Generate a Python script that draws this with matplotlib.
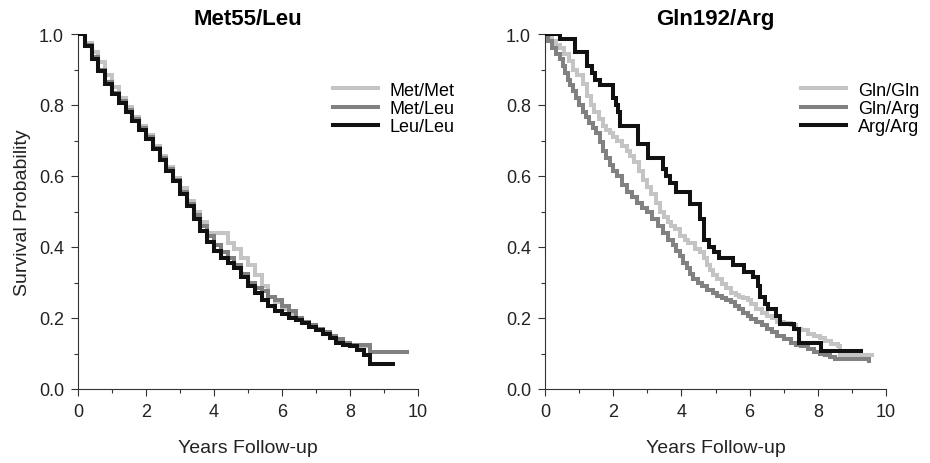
import matplotlib
matplotlib.use("Agg")
import matplotlib.pyplot as plt
import numpy as np

plt.rcParams['font.family'] = ['Liberation Sans', 'DejaVu Sans']

# ---------------- data ----------------
left_title = "Met55/Leu"
right_title = "Gln192/Arg"
x_label = "Years Follow-up"
y_label = "Survival Probability"
x_ticks = [0, 2, 4, 6, 8, 10]
y_ticks = [0.0, 0.2, 0.4, 0.6, 0.8, 1.0]

left_labels = ["Met/Met", "Met/Leu", "Leu/Leu"]
right_labels = ["Gln/Gln", "Gln/Arg", "Arg/Arg"]

grid_t = [0, 0.2, 0.4, 0.6, 0.8, 1.0, 1.2, 1.4, 1.6, 1.8, 2.0, 2.2, 2.4, 2.6, 2.8,
          3.0, 3.2, 3.4, 3.6, 3.8, 4.0, 4.2, 4.4, 4.6, 4.8, 5.0, 5.2, 5.4, 5.6, 5.8,
          6.0, 6.2, 6.4, 6.6, 6.8, 7.0, 7.2, 7.4, 7.6, 7.8, 8.0, 8.2, 8.4, 8.6]

leuleu_t = grid_t + [9.25]
leuleu_s = [1.0, 0.965, 0.93, 0.895, 0.86, 0.83, 0.805, 0.78, 0.755, 0.73, 0.705, 0.675,
            0.645, 0.615, 0.585, 0.55, 0.515, 0.48, 0.445, 0.415, 0.39, 0.37, 0.355, 0.34,
            0.315, 0.29, 0.27, 0.25, 0.235, 0.22, 0.21, 0.2, 0.195, 0.185, 0.175, 0.165,
            0.155, 0.145, 0.13, 0.125, 0.12, 0.11, 0.095, 0.07, 0.07]

metleu_t = grid_t + [9.67]
metleu_s = [1.0, 0.97, 0.935, 0.9, 0.865, 0.835, 0.81, 0.785, 0.76, 0.735, 0.71, 0.68,
            0.65, 0.62, 0.59, 0.555, 0.52, 0.49, 0.46, 0.43, 0.405, 0.385, 0.37, 0.35,
            0.325, 0.3, 0.285, 0.275, 0.26, 0.25, 0.235, 0.22, 0.2, 0.19, 0.18, 0.17,
            0.16, 0.15, 0.14, 0.13, 0.125, 0.125, 0.125, 0.105, 0.105]

metmet_t = grid_t[:-1] + [8.5]
metmet_s = [1.0, 0.975, 0.95, 0.92, 0.885, 0.85, 0.82, 0.795, 0.765, 0.74, 0.715, 0.685,
            0.655, 0.625, 0.595, 0.565, 0.53, 0.5, 0.47, 0.44, 0.44, 0.44, 0.41, 0.395,
            0.37, 0.35, 0.32, 0.29, 0.26, 0.245, 0.225, 0.21, 0.2, 0.19, 0.18, 0.165,
            0.155, 0.145, 0.14, 0.13, 0.125, 0.12, 0.12, 0.12]

glngln_t = [0, 0.1, 0.2, 0.32, 0.44, 0.55, 0.7, 0.83, 0.95, 1.1, 1.24, 1.35, 1.45, 1.58,
            1.7, 1.8, 1.9, 2.0, 2.1, 2.25, 2.4, 2.5, 2.6, 2.75, 2.88, 3.0, 3.1, 3.25, 3.38,
            3.5, 3.6, 3.7, 3.8, 3.97, 4.1, 4.2, 4.4, 4.56, 4.65, 4.75, 4.85, 4.94, 5.05,
            5.2, 5.32, 5.44, 5.6, 5.7, 5.82, 5.94, 6.05, 6.2, 6.35, 6.5, 6.65, 6.8, 7.0,
            7.2, 7.35, 7.5, 7.7, 7.9, 8.05, 8.2, 8.4, 8.6, 8.65, 9.6]
glngln_s = [1.0, 0.99, 0.98, 0.97, 0.96, 0.945, 0.925, 0.90, 0.885, 0.86, 0.825, 0.80,
            0.78, 0.76, 0.74, 0.73, 0.72, 0.71, 0.70, 0.685, 0.67, 0.655, 0.64, 0.615,
            0.59, 0.57, 0.55, 0.525, 0.50, 0.485, 0.47, 0.46, 0.45, 0.43, 0.42, 0.41,
            0.395, 0.385, 0.37, 0.35, 0.335, 0.32, 0.31, 0.295, 0.285, 0.27, 0.265, 0.26,
            0.255, 0.25, 0.24, 0.225, 0.215, 0.205, 0.2, 0.19, 0.185, 0.18, 0.17, 0.165,
            0.155, 0.15, 0.145, 0.135, 0.128, 0.12, 0.095, 0.095]

glnarg_t = [0, 0.1, 0.2, 0.32, 0.44, 0.52, 0.6, 0.67, 0.74, 0.82, 0.9, 1.0, 1.12, 1.2,
            1.3, 1.4, 1.5, 1.6, 1.7, 1.8, 1.9, 2.0, 2.1, 2.25, 2.4, 2.55, 2.7, 2.85, 3.0,
            3.15, 3.3, 3.45, 3.6, 3.75, 3.85, 3.97, 4.05, 4.15, 4.25, 4.35, 4.5, 4.6, 4.75,
            4.94, 5.05, 5.2, 5.32, 5.44, 5.57, 5.7, 5.82, 5.94, 6.05, 6.2, 6.35, 6.5, 6.65,
            6.8, 7.0, 7.2, 7.35, 7.5, 7.7, 7.9, 8.05, 8.2, 8.35, 8.5, 9.5]
glnarg_s = [1.0, 0.98, 0.96, 0.945, 0.93, 0.91, 0.89, 0.87, 0.855, 0.84, 0.82, 0.80, 0.78,
            0.765, 0.75, 0.735, 0.72, 0.695, 0.67, 0.65, 0.63, 0.615, 0.60, 0.575, 0.555,
            0.54, 0.525, 0.51, 0.50, 0.48, 0.46, 0.44, 0.42, 0.405, 0.39, 0.375, 0.355,
            0.34, 0.325, 0.31, 0.30, 0.29, 0.28, 0.27, 0.262, 0.255, 0.25, 0.245, 0.235,
            0.225, 0.215, 0.205, 0.198, 0.19, 0.18, 0.17, 0.16, 0.15, 0.14, 0.13, 0.125,
            0.12, 0.112, 0.105, 0.1, 0.095, 0.09, 0.085, 0.08]

argarg_t = [0, 0.45, 0.88, 1.23, 1.38, 1.47, 1.6, 2.0, 2.08, 2.15, 2.2, 2.72, 3.03, 3.45,
            3.55, 3.68, 3.85, 4.26, 4.56, 4.65, 4.8, 4.95, 5.1, 5.5, 5.84, 6.1, 6.25, 6.3,
            6.45, 6.55, 6.76, 6.88, 7.3, 7.45, 8.1, 9.27]
argarg_s = [1.0, 0.986, 0.95, 0.91, 0.89, 0.87, 0.855, 0.82, 0.80, 0.78, 0.74, 0.69, 0.65,
            0.62, 0.60, 0.58, 0.555, 0.52, 0.48, 0.42, 0.40, 0.385, 0.37, 0.35, 0.33, 0.315,
            0.29, 0.26, 0.24, 0.225, 0.205, 0.183, 0.17, 0.13, 0.107, 0.107]

colors = ["#c4c4c4", "#818181", "#111111"]

# ---------------- figure ----------------
fig = plt.figure(figsize=(9.3, 4.64), dpi=100)
W, H = 930, 464
ax1 = fig.add_axes([78 / W, (H - 390) / H, 340 / W, 355 / H])
ax2 = fig.add_axes([545 / W, (H - 390) / H, 341 / W, 355 / H])

left_series = [(metmet_t, metmet_s), (metleu_t, metleu_s), (leuleu_t, leuleu_s)]
right_series = [(glngln_t, glngln_s), (glnarg_t, glnarg_s), (argarg_t, argarg_s)]

for ax, series, labels, title in [(ax1, left_series, left_labels, left_title),
                                  (ax2, right_series, right_labels, right_title)]:
    for (t, s), lab, c in zip(series, labels, colors):
        ax.step(t, s, where="post", color=c, lw=2.9, label=lab, solid_joinstyle="miter")
    ax.set_xlim(0, 10)
    ax.set_ylim(0, 1.0)
    ax.set_xticks(x_ticks)
    ax.set_yticks(y_ticks)
    ax.set_yticklabels([f"{v:.1f}" for v in y_ticks])
    ax.set_xticks(np.arange(1, 10, 2), minor=True)
    ax.set_yticks(np.arange(0.1, 1.0, 0.2), minor=True)
    ax.spines["top"].set_visible(False)
    ax.spines["right"].set_visible(False)
    for sp in ["left", "bottom"]:
        ax.spines[sp].set_linewidth(0.8)
        ax.spines[sp].set_color("#333333")
        ax.spines[sp].set_zorder(0.5)
    ax.tick_params(which="major", direction="out", length=5, width=0.8, labelsize=13,
                   colors="#333333", labelcolor="#222222", pad=5)
    ax.tick_params(which="minor", direction="out", length=3, width=0.8, colors="#333333")
    ax.set_xlabel(x_label, fontsize=14, labelpad=14, color="#222222")
    ax.set_title(title, fontsize=16, fontweight="bold", pad=7)
    leg = ax.legend(loc="center left", bbox_to_anchor=(0.75, 0.79), frameon=False,
                    fontsize=13, handlelength=2.5, handletextpad=0.65, labelspacing=0.08,
                    borderpad=0, borderaxespad=0)
    for line in leg.get_lines():
        line.set_linewidth(2.9)

ax1.set_ylabel(y_label, fontsize=14, labelpad=6, color="#222222")

fig.savefig("out.png", dpi=100)
